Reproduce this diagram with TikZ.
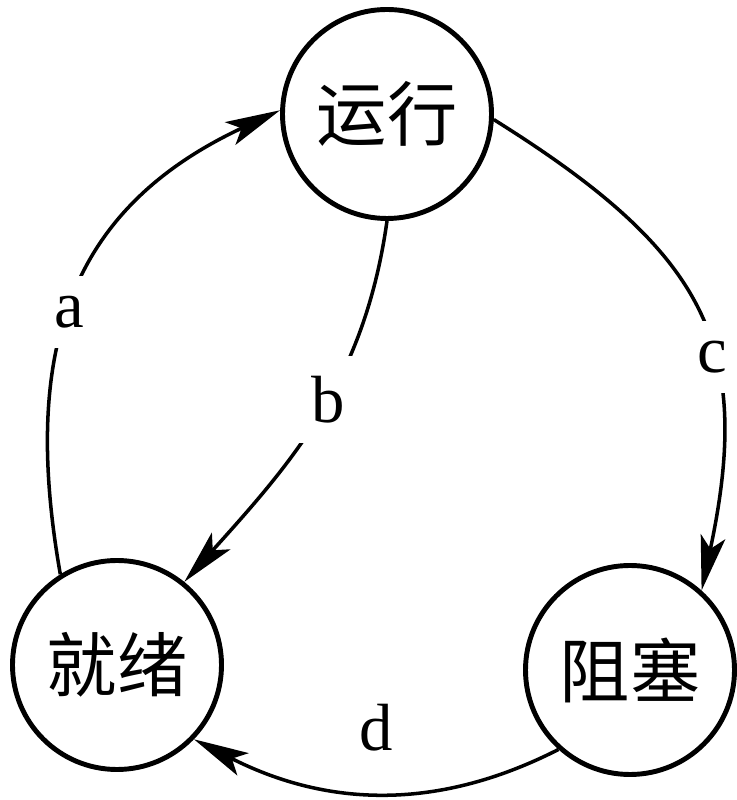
\documentclass[tikz,border=0pt]{standalone}
\usepackage{fontspec}
\setmainfont{Liberation Serif}
\newfontfamily\cjk{Noto Sans CJK SC}
\usetikzlibrary{arrows.meta}
\tikzset{
  state/.style={draw, circle, line width=2.8pt, minimum size=4.18cm, inner sep=0pt,
    font=\cjk\fontsize{40}{44}\selectfont},
  trans/.style={line width=2pt, -{Stealth[length=11mm, width=5mm, inset=2.5mm]}},
  lbl/.style={fill=white, inner sep=4mm, font=\fontsize{38}{40}\selectfont},
}
\begin{document}
\begin{tikzpicture}
    \useasboundingbox (0,0) rectangle (14.72,16);
    \node[state] (run) at (7.74,13.72) {运行};
    \node[state] (ready) at (2.34,2.70) {就绪};
    \node[state] (blocked) at (12.60,2.60) {阻塞};
    \draw[trans] (ready.122) to[out=100, in=205, looseness=1.15] node[lbl, pos=0.46] {a} (run.178);
    \draw[trans] (run.270) to[out=262, in=48] node[lbl, pos=0.45] {b} (ready.51);
    \draw[trans] (run.-3) to[out=-32, in=78, looseness=1.25] node[lbl, pos=0.6] {c} (blocked.48);
    \draw[trans] (blocked.228) to[out=207, in=333] node[lbl, fill=none, pos=0.5, yshift=1.3cm] {d} (ready.316);
\end{tikzpicture}
\end{document}
